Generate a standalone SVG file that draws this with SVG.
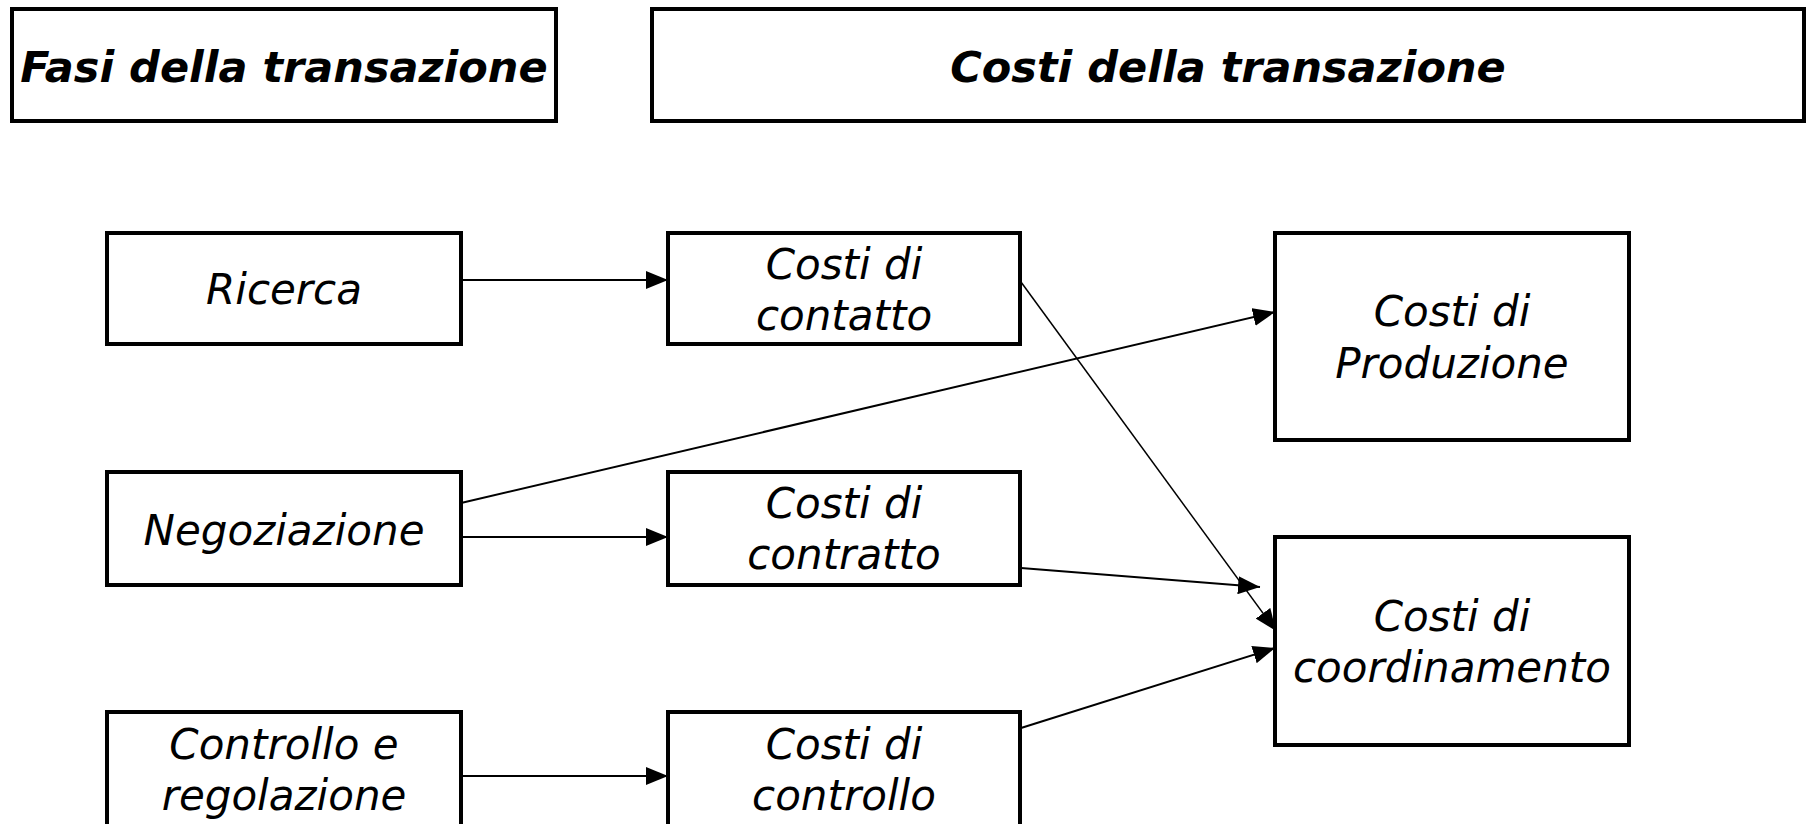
<svg xmlns="http://www.w3.org/2000/svg" width="1806" height="824" viewBox="0 0 1806 824">
<style>
.box{fill:#fff;stroke:#000;stroke-width:4}
.t{font-family:"DejaVu Sans",Verdana,sans-serif;font-style:italic;font-size:42px;fill:#000;text-anchor:middle}
.h{font-weight:bold;font-size:43px}
.c{fill:none;stroke:#000;stroke-width:2}
</style>
<defs>
<marker id="ah" markerWidth="22" markerHeight="18" refX="22" refY="9" orient="auto" markerUnits="userSpaceOnUse">
<path d="M0,0 L22,9 L0,18 Z" fill="#000"/>
</marker>
</defs>
<rect width="1806" height="824" fill="#fff"/>
<g id="h1"><rect class="box" x="12" y="9" width="544" height="112"/><text class="t h" x="284" y="82">Fasi della transazione</text></g>
<g id="h2"><rect class="box" x="652" y="9" width="1152" height="112"/><text class="t h" x="1228" y="82">Costi della transazione</text></g>
<g id="ricerca"><rect class="box" x="107" y="233" width="354" height="111"/><text class="t" x="284" y="304">Ricerca</text></g>
<g id="contatto"><rect class="box" x="668" y="233" width="352" height="111"/><text class="t" x="844" y="279">Costi di</text><text class="t" x="844" y="330">contatto</text></g>
<g id="produzione"><rect class="box" x="1275" y="233" width="354" height="207"/><text class="t" x="1452" y="326">Costi di</text><text class="t" x="1452" y="378">Produzione</text></g>
<g id="negoziazione"><rect class="box" x="107" y="472" width="354" height="113"/><text class="t" x="284" y="545">Negoziazione</text></g>
<g id="contratto"><rect class="box" x="668" y="472" width="352" height="113"/><text class="t" x="844" y="518">Costi di</text><text class="t" x="844" y="569">contratto</text></g>
<g id="coordinamento"><rect class="box" x="1275" y="537" width="354" height="208"/><text class="t" x="1452" y="631">Costi di</text><text class="t" x="1452" y="682">coordinamento</text></g>
<g id="controllo_reg"><rect class="box" x="107" y="712" width="354" height="120"/><text class="t" x="284" y="759">Controllo e</text><text class="t" x="284" y="810">regolazione</text></g>
<g id="controllo"><rect class="box" x="668" y="712" width="352" height="120"/><text class="t" x="844" y="759">Costi di</text><text class="t" x="844" y="810">controllo</text></g>
<g id="connectors">
<line class="c" x1="461" y1="280" x2="668" y2="280" marker-end="url(#ah)"/>
<line class="c" x1="461" y1="537" x2="668" y2="537" marker-end="url(#ah)"/>
<line class="c" x1="461" y1="776" x2="668" y2="776" marker-end="url(#ah)"/>
<line class="c" x1="461" y1="503" x2="1275" y2="312" marker-end="url(#ah)"/>
<line class="c" x1="1021" y1="282" x2="1276" y2="631" marker-end="url(#ah)" style="stroke-width:1.5"/>
<line class="c" x1="1021" y1="568" x2="1260" y2="587" marker-end="url(#ah)"/>
<line class="c" x1="1021" y1="728" x2="1275" y2="648" marker-end="url(#ah)"/>
</g>
</svg>
